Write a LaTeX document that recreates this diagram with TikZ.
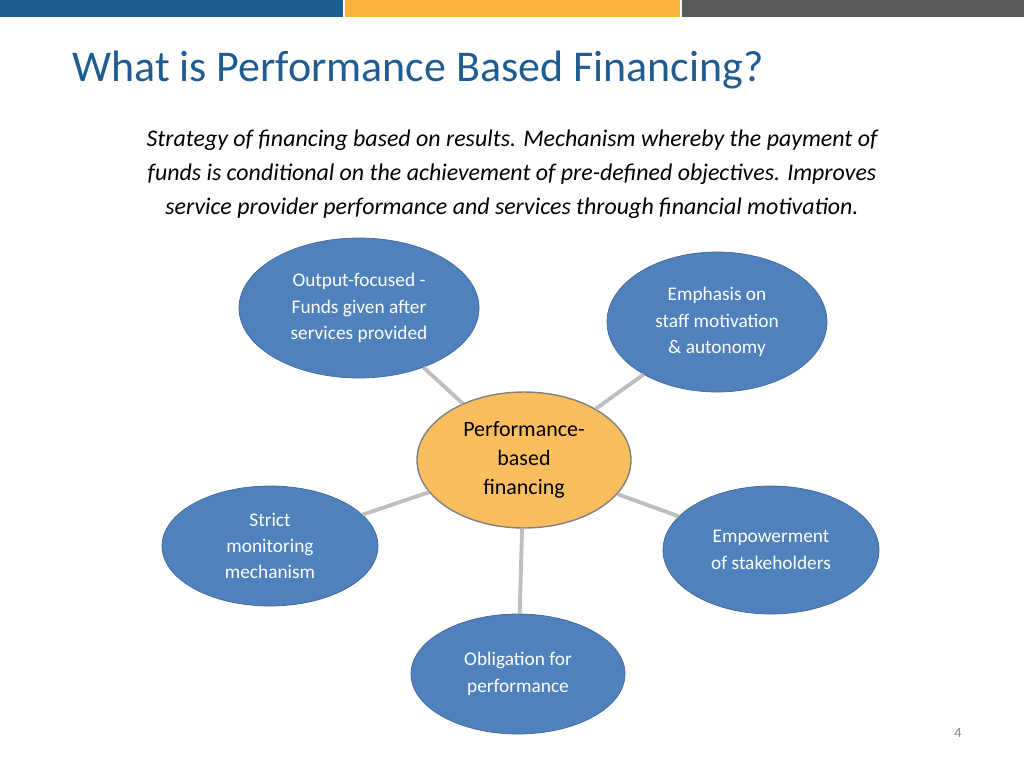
\documentclass[tikz,border=0pt]{standalone}
\usepackage{fontspec}
\setmainfont{Carlito}
\usetikzlibrary{shapes.geometric}
\definecolor{titleblue}{RGB}{31,92,145}
\definecolor{bubble}{RGB}{79,129,189}
\definecolor{hub}{RGB}{250,190,95}
\definecolor{barblue}{RGB}{31,92,145}
\definecolor{barorange}{RGB}{251,180,60}
\definecolor{bargray}{RGB}{88,89,91}
\definecolor{linkgray}{RGB}{190,190,190}
\tikzset{
  idea/.style={ellipse, fill=bubble, draw=bubble!80!black, text=white, align=center,
    font=\fontsize{11}{15}\selectfont},
  link/.style={draw=linkgray, line width=2.2pt}
}
\begin{document}
\begin{tikzpicture}[x=0.02cm,y=-0.02cm]
    \useasboundingbox (0,0) rectangle (1024,768);
    % top bars
    \fill[barblue] (0,0) rectangle (343,17);
    \fill[barorange] (345,0) rectangle (680,17);
    \fill[bargray] (682,0) rectangle (1024,17);
    \node[anchor=west, text=titleblue, font=\fontsize{25}{30}\selectfont] (title) at (66,70) {What is Performance Based Financing?};
    \node[align=center, font=\fontsize{13.6}{19.3}\selectfont\itshape] (intro) at (512,174)
      {Strategy of financing based on results. Mechanism whereby the payment of\\
       funds is conditional on the achievement of pre-defined objectives. Improves\\
       service provider performance and services through financial motivation.};
    % bubbles
    \node[idea, minimum width=240*0.02cm, minimum height=140*0.02cm] (output) at (359,308) {Output-focused -\\Funds given after\\services provided};
    \node[idea, minimum width=220*0.02cm, minimum height=140*0.02cm] (emph) at (717,322) {Emphasis on\\staff motivation\\\& autonomy};
    \node[idea, minimum width=216*0.02cm, minimum height=120*0.02cm] (strict) at (270,546) {Strict\\monitoring\\mechanism};
    \node[idea, minimum width=216*0.02cm, minimum height=128*0.02cm] (empow) at (771,550) {Empowerment\\of stakeholders};
    \node[idea, minimum width=214*0.02cm, minimum height=120*0.02cm] (oblig) at (518,674) {Obligation for\\performance};
    \node[ellipse, fill=hub, draw=gray, thick, align=center, inner sep=0pt,
      minimum width=214*0.02cm, minimum height=136*0.02cm,
      font=\fontsize{12.5}{16.5}\selectfont] (pbf) at (524,460) {Performance-\\based\\financing};
    % connectors
    \foreach \n in {output,emph,strict,empow,oblig}
      \path[link] (pbf) -- (\n);
    \node[text=gray, font=\fontsize{8}{10}\selectfont] (page) at (958,733) {4};
\end{tikzpicture}
\end{document}
